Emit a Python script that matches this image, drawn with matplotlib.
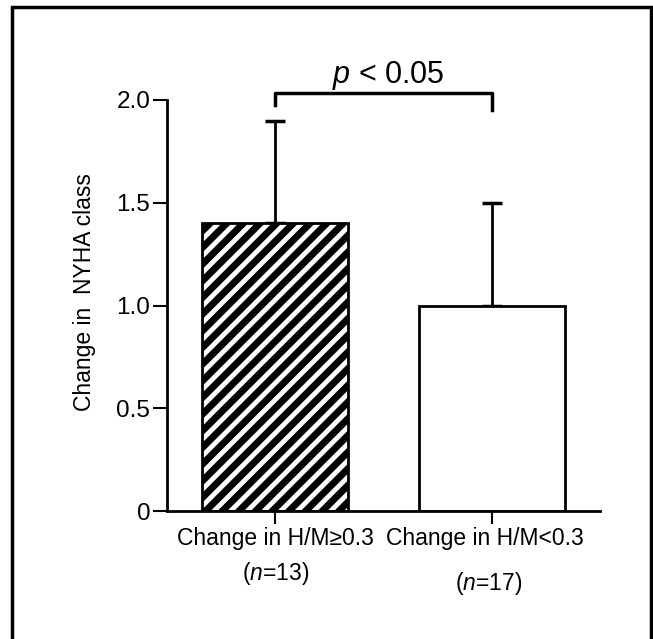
import matplotlib.pyplot as plt
from matplotlib.patches import Rectangle

plt.rcParams['font.family'] = ['Liberation Sans', 'DejaVu Sans']
plt.rcParams['mathtext.fontset'] = 'custom'
plt.rcParams['mathtext.rm'] = 'Liberation Sans'
plt.rcParams['mathtext.it'] = 'Liberation Sans:italic'
plt.rcParams['hatch.linewidth'] = 5

# data
groups = ["Change in H/M\u22650.3", "Change in H/M<0.3"]
n_labels = ["($\\mathit{n}$=13)", "($\\mathit{n}$=17)"]
means = [1.4, 1.0]
sd = [0.5, 0.5]
yticks = [0, 0.5, 1.0, 1.5, 2.0]
ytick_labels = ["0", "0.5", "1.0", "1.5", "2.0"]
p_text = "$\\mathit{p}$ < 0.05"

fig = plt.figure(figsize=(6.53, 6.39), dpi=100)
# outer frame
fig.patches.append(Rectangle((12/653, -0.05), (651-12)/653, 1.05 - 7/639,
                             transform=fig.transFigure, fill=False,
                             lw=2.5, ec="black"))

ax = fig.add_axes([167/653, 1-511/639, 433/653, 411/639])
x = [0, 1]
ax.bar(x[0], means[0], width=0.676, color="white", edgecolor="black",
       hatch="//", lw=2, zorder=2)
ax.bar(x[1], means[1], width=0.676, color="white", edgecolor="black",
       lw=2, zorder=2)
ax.errorbar(x, means, yerr=[[0, 0], sd], fmt="none", ecolor="black",
            elinewidth=2, capsize=7, capthick=2.5, zorder=1)

ax.set_xlim(-0.5, 1.5)
ax.set_ylim(0, 2.0)
ax.set_yticks(yticks)
ax.set_yticklabels(ytick_labels, fontsize=17.5)
ax.set_xticks(x)
ax.set_xticklabels(["", ""])
ax.tick_params(axis="y", length=10, width=1.5, pad=2)
ax.tick_params(axis="x", length=9, width=1.5)
for s in ["top", "right"]:
    ax.spines[s].set_visible(False)
for s in ["left", "bottom"]:
    ax.spines[s].set_linewidth(2)

ax.set_ylabel("Change in  NYHA class", fontsize=16.5)
ax.yaxis.set_label_coords(-0.164, 0.533)

# x labels
xt = ax.get_xaxis_transform()
ax.text(x[0], -0.083, groups[0], ha="center", va="baseline", fontsize=16.5,
        transform=xt)
ax.text(x[0], -0.168, n_labels[0], ha="center", va="baseline", fontsize=16.5,
        transform=xt)
ax.text(x[1] - 0.033, -0.083, groups[1], ha="center", va="baseline",
        fontsize=16.5, transform=xt)
ax.text(x[1] - 0.014, -0.192, n_labels[1], ha="center", va="baseline",
        fontsize=16.5, transform=xt)

# significance bracket
ax.plot([x[0], x[0], x[1], x[1]], [1.975, 2.034, 2.034, 1.95], color="black",
        lw=2.5, clip_on=False)
ax.text(0.52, 2.083, p_text, ha="center", va="baseline", fontsize=22,
        clip_on=False)

fig.savefig("out.png", dpi=100)
